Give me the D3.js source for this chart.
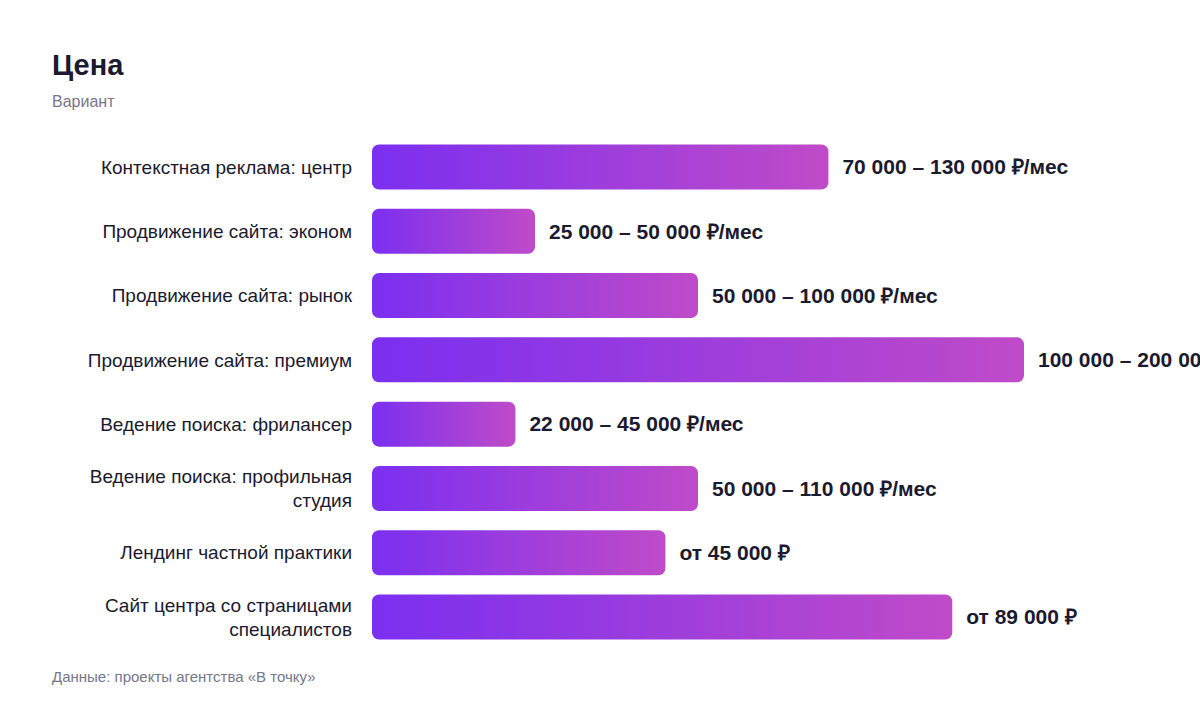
<!DOCTYPE html>
<html><head><meta charset="utf-8">
<script src="https://cdn.jsdelivr.net/npm/d3@7"></script>
<style>
html,body{margin:0;padding:0;background:#fff;}
svg{display:block;font-family:"Liberation Sans",Arial,Helvetica,sans-serif;}
</style></head>
<body>
<svg id="chart" width="1200" height="712"></svg>
<script>
const categories = [
  ["Контекстная реклама: центр"],
  ["Продвижение сайта: эконом"],
  ["Продвижение сайта: рынок"],
  ["Продвижение сайта: премиум"],
  ["Ведение поиска: фрилансер"],
  ["Ведение поиска: профильная", "студия"],
  ["Лендинг частной практики"],
  ["Сайт центра со страницами", "специалистов"]
];
const values = [70000, 25000, 50000, 100000, 22000, 50000, 45000, 89000];
const valueLabels = [
  "70 000 – 130 000 ₽/мес",
  "25 000 – 50 000 ₽/мес",
  "50 000 – 100 000 ₽/мес",
  "100 000 – 200 000 ₽/мес",
  "22 000 – 45 000 ₽/мес",
  "50 000 – 110 000 ₽/мес",
  "от 45 000 ₽",
  "от 89 000 ₽"
];
const title = "Цена";
const subtitle = "Вариант";
const source = "Данные: проекты агентства «В точку»";

const svg = d3.select("#chart");
const left = 372;
const x = d3.scaleLinear().domain([0, 100000]).range([left, left + 652]);
const y = d3.scaleBand().domain(d3.range(categories.length)).range([125.2, 658.8]).padding(0.3);

const defs = svg.append("defs");
const grad = defs.append("linearGradient").attr("id", "barGrad")
  .attr("x1", "0%").attr("x2", "100%").attr("y1", "0%").attr("y2", "0%");
grad.append("stop").attr("offset", "0%").attr("stop-color", "#7b2ff0");
grad.append("stop").attr("offset", "100%").attr("stop-color", "#bf4bc8");

svg.append("text").attr("x", 52).attr("y", 75).text(title)
  .attr("font-size", 29).attr("font-weight", 700).attr("fill", "#1b1a2e");
svg.append("text").attr("x", 52).attr("y", 107).text(subtitle)
  .attr("font-size", 16).attr("fill", "#77768a");

const rows = svg.append("g").selectAll("g").data(values).join("g");

rows.append("rect")
  .attr("x", x(0))
  .attr("y", (d, i) => y(i))
  .attr("width", d => x(d) - x(0))
  .attr("height", y.bandwidth())
  .attr("rx", 7).attr("ry", 7)
  .attr("fill", "url(#barGrad)");

rows.append("text")
  .attr("x", d => x(d) + 14)
  .attr("y", (d, i) => y(i) + y.bandwidth() / 2)
  .attr("dy", "0.35em")
  .attr("font-size", 21).attr("font-weight", 700).attr("fill", "#1b1a2e")
  .text((d, i) => valueLabels[i]);

rows.append("text")
  .attr("text-anchor", "end")
  .attr("font-size", 19).attr("fill", "#1b1a2e")
  .each(function(d, i) {
    const lines = categories[i];
    const cy = y(i) + y.bandwidth() / 2;
    const lh = 24;
    const t = d3.select(this);
    lines.forEach((ln, k) => {
      t.append("tspan").attr("x", 352)
        .attr("y", cy + (k - (lines.length - 1) / 2) * lh)
        .attr("dy", "0.35em").text(ln);
    });
  });

svg.append("text").attr("x", 52).attr("y", 682).text(source)
  .attr("font-size", 15).attr("fill", "#77768a");
</script>
</body></html>
